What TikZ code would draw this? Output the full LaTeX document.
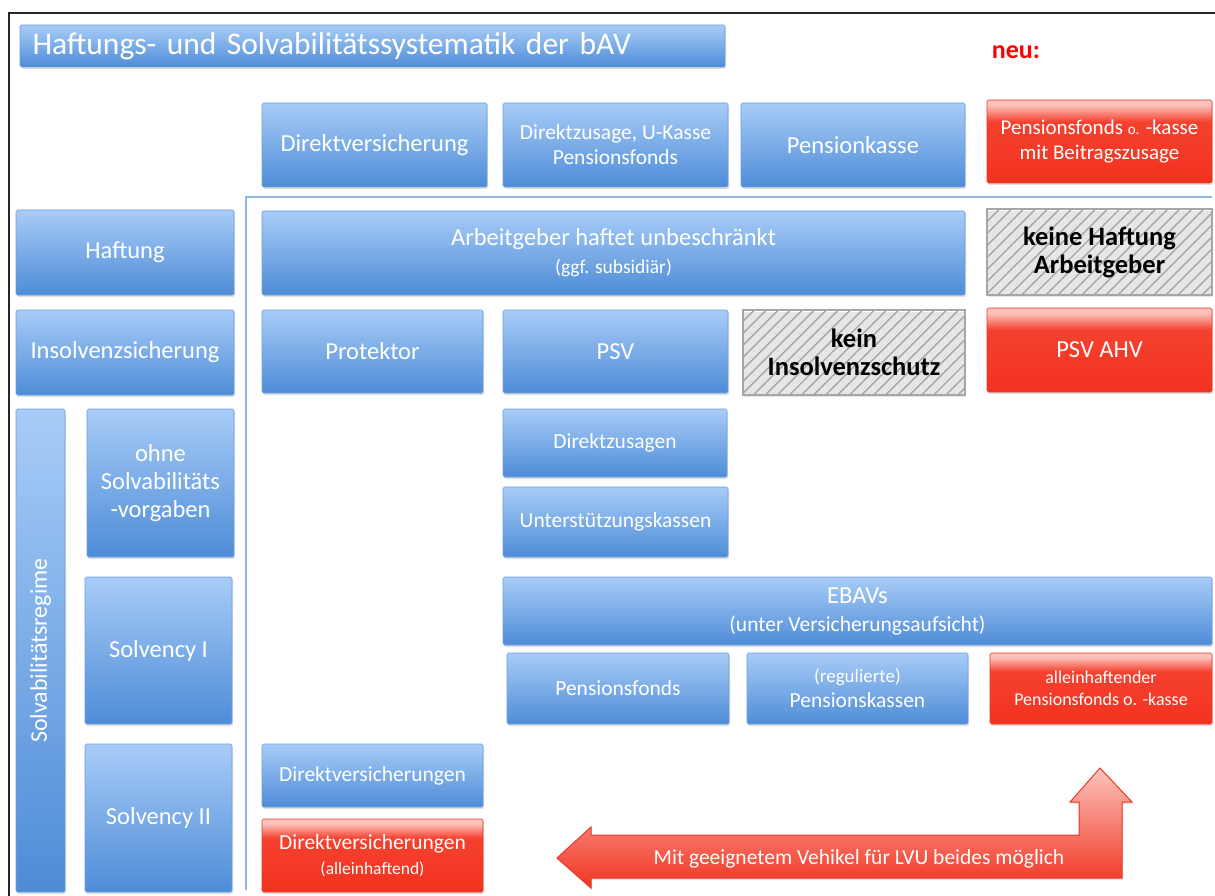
\documentclass[tikz,border=0pt]{standalone}
\usepackage{fontspec}
\setmainfont{Carlito}
\usetikzlibrary{shadows,patterns.meta}

\definecolor{blueT}{HTML}{A8CCF7}
\definecolor{blueB}{HTML}{4E8CD7}
\definecolor{blueLine}{HTML}{6C9FDC}
\definecolor{redT}{HTML}{FBC3BC}
\definecolor{redM}{HTML}{F5412F}
\definecolor{redB}{HTML}{F2321F}
\definecolor{redLine}{HTML}{E8392A}
\definecolor{sepBlue}{HTML}{93B6E0}

\pgfdeclareverticalshading{redfill}{100bp}{color(0bp)=(redB); color(25bp)=(redB); color(62bp)=(redM); color(72bp)=(redT); color(75bp)=(redT); color(100bp)=(redT)}

\begin{document}
\begin{tikzpicture}[x=1pt, y=-1pt,
  box/.style={rectangle, rounded corners=1.5pt, draw=blueLine, line width=0.6pt,
    top color=blueT, bottom color=blueB, text=white, align=center, inner sep=2pt,
    drop shadow={opacity=0.25, shadow xshift=1pt, shadow yshift=-2pt},
    font=\fontsize{24.5}{28}\selectfont},
  redbox/.style={box, draw=redLine, shading=redfill},
  hatchbox/.style={rectangle, draw=gray!70, line width=1.2pt, fill=white, align=center,
    pattern={Lines[angle=45, distance=8.5pt, line width=1.4pt]}, pattern color=gray!70,
    drop shadow={opacity=0.2, shadow xshift=1pt, shadow yshift=-2pt},
    font=\fontsize{26.5}{28}\selectfont\bfseries},
  small/.style={font=\fontsize{21.5}{25}\selectfont},
  sepline/.style={draw=sepBlue, line width=1.6pt}
]
\useasboundingbox (0,0) rectangle (1215,896);

% Frame
\draw[line width=2.4pt, black!85] (9,896) -- (9,13) -- (1215,13);

% Title
\node[box, text width=680, inner xsep=12.5, minimum height=42, align=left,
  font=\fontsize{31.5}{33}\selectfont] (title) at (372.5,46) {Haftungs- und Solvabilitätssystematik der bAV};
\node[text=red, font=\fontsize{26}{28}\selectfont\bfseries] (neu) at (1016,52) {neu:};

% Vehicles
\node[box, minimum width=225, minimum height=84] (direktvers) at (374.5,145) {Direktversicherung};
\node[box, small, minimum width=225, minimum height=84] (direktzus) at (615.5,145) {Direktzusage, U-Kasse\\Pensionsfonds};
\node[box, minimum width=224, minimum height=84] (pensionkasse) at (853,145) {Pensionkasse};
\node[redbox, font=\fontsize{21}{25}\selectfont, minimum width=225, minimum height=83] (pfneu) at (1099.5,141.5) {Pensionsfonds {\fontsize{15}{17}\selectfont o.} -kasse\\mit Beitragszusage};

% Separator
\draw[sepline] (1212,197) -- (246,197) -- (246,890);

% Haftung
\node[box, minimum width=218, minimum height=85] (haftung) at (125,252.5) {Haftung};
\node[box, minimum width=703, minimum height=84] (arbeitgeber) at (613.5,253) {Arbeitgeber haftet unbeschränkt\\{\fontsize{19.5}{22}\selectfont (ggf. subsidiär)}};
\node[hatchbox, minimum width=225, minimum height=86] (keinehaftung) at (1099.5,252) {keine Haftung\\Arbeitgeber};

% Insolvenzsicherung
\node[box, minimum width=218, minimum height=85] (insolvenz) at (125,352.5) {Insolvenzsicherung};
\node[box, minimum width=221, minimum height=83] (protektor) at (372.5,351.5) {Protektor};
\node[box, minimum width=225, minimum height=83] (psv) at (615.5,351.5) {PSV};
\node[hatchbox, minimum width=222, minimum height=85] (keinschutz) at (854,352.5) {kein\\Insolvenzschutz};
\node[redbox, minimum width=225, minimum height=84] (psvahv) at (1099.5,350) {PSV AHV};

% Solvabilitaetsregime
\node[box, rotate=90, minimum width=483, minimum height=49, font=\fontsize{24}{26}\selectfont] (regime) at (40.5,650.5) {Solvabilitätsregime};
\node[box, minimum width=147, minimum height=148] (ohne) at (160.5,483) {ohne\\Solvabilitäts\\-vorgaben};
\node[box, minimum width=147, minimum height=147] (solvone) at (158.5,650.5) {Solvency I};
\node[box, minimum width=147, minimum height=148] (solvtwo) at (158.5,818) {Solvency II};

% ohne Solvabilitaetsvorgaben
\node[box, small, minimum width=224, minimum height=68] (dzusagen) at (615,443) {Direktzusagen};
\node[box, small, minimum width=225, minimum height=70] (ukassen) at (615.5,522) {Unterstützungskassen};

% Solvency I
\node[box, minimum width=709, minimum height=68] (ebav) at (857.5,611) {EBAVs\\{\fontsize{21.5}{24}\selectfont (unter Versicherungsaufsicht)}};
\node[box, small, minimum width=222, minimum height=71] (pfonds) at (618,688.5) {Pensionsfonds};
\node[box, small, minimum width=221, minimum height=71] (regpk) at (857.5,688.5) {{\fontsize{19}{22}\selectfont (regulierte)}\\Pensionskassen};
\node[redbox, minimum width=222, minimum height=71, font=\fontsize{18}{22}\selectfont] (allein) at (1101,688.5) {alleinhaftender\\Pensionsfonds o. -kasse};

% Solvency II
\node[box, small, minimum width=221, minimum height=63] (dvsn) at (372.5,775.5) {Direktversicherungen};
\node[redbox, small, minimum width=221, minimum height=73] (dvsnallein) at (372.5,855.5) {Direktversicherungen\\{\fontsize{17.5}{20}\selectfont (alleinhaftend)}};

% Arrow
\draw[draw=redLine, line width=1pt, top color=redT, bottom color=redB,
  drop shadow={opacity=0.2, shadow xshift=1pt, shadow yshift=-2pt}]
  (557,858) -- (591,827) -- (591,835) -- (1079,835) -- (1079,802) -- (1070,802)
  -- (1100,768) -- (1132,802) -- (1122,802) -- (1122,878) -- (591,878) -- (591,888) -- cycle;
\node[text=white, font=\fontsize{21.5}{24}\selectfont] (vehikel) at (859,859) {Mit geeignetem Vehikel für LVU beides möglich};
\end{tikzpicture}
\end{document}
